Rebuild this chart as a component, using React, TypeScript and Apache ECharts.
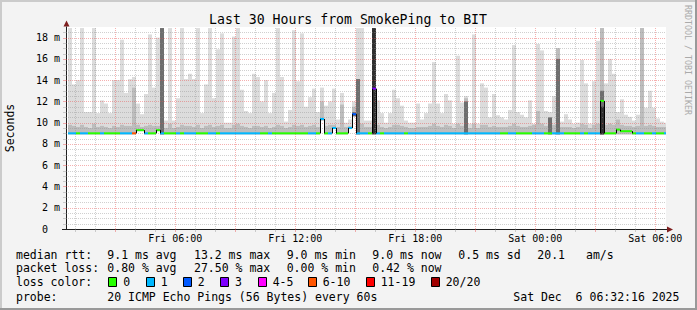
import React, { useEffect, useRef } from "react";
import * as echarts from "echarts";

const MONO = "'DejaVu Sans Mono', monospace";

// time axis: hours after Fri 00:00; left edge at Fri 00:32:16
const T0 = 0.5378;
const SPAN = 30;
const COL0 = 0.1; // first 12-minute column starts 6 min after left edge
const STEP = 0.2; // 12 minutes
const YMAX = 19;

const xTickValues = [6, 12, 18, 24, 30];
const xTickLabels = ["Fri 06:00", "Fri 12:00", "Fri 18:00", "Sat 00:00", "Sat 06:00"];

// highest ping per column (ms)
const smokeTop = [
  18.9, 13.6, 14.0, 18.9, 11.0, 11.0, 18.9, 10.9, 12.1, 11.8,
  10.9, 14.0, 14.0, 17.8, 12.8, 14.1, 14.3, 11.8, 10.8, 12.7,
  18.3, 13.3, 18.0, 18.9, 10.2, 18.9, 10.2, 12.3, 18.9, 14.1,
  14.6, 14.1, 18.9, 10.9, 13.6, 18.9, 12.3, 16.9, 18.4, 10.0,
  10.0, 18.1, 18.9, 13.1, 11.1, 10.9, 14.6, 14.3, 12.0, 14.0,
  10.9, 12.8, 18.9, 14.3, 10.1, 11.2, 18.7, 13.9, 18.4, 11.5,
  12.4, 13.2, 11.0, 13.3, 11.6, 12.0, 13.2, 10.3, 12.8, 10.0,
  10.3, 12.0, 18.9, 18.9, 10.2, 10.2, 18.9, 12.1, 10.9, 10.0,
  10.9, 13.1, 12.3, 11.6, 10.2, 10.0, 10.0, 11.8, 10.3, 10.9,
  11.8, 15.7, 11.8, 10.9, 12.7, 12.1, 9.9, 16.3, 11.9, 12.5,
  9.9, 18.3, 9.9, 13.7, 13.3, 10.5, 12.7, 10.7, 10.5, 10.3,
  11.2, 17.3, 11.0, 10.75, 10.5, 12.1, 9.9, 17.4, 16.8, 11.1,
  11.0, 12.5, 17.0, 10.1, 10.8, 10.3, 9.9, 10.0, 15.9, 13.7,
  9.9, 13.9, 17.7, 18.9, 13.7, 16.0, 14.6, 11.0, 12.2, 10.75,
  10.55, 10.2, 10.75, 18.9, 11.4, 13.0, 11.4, 10.4, 10.1, 10.0,
];

// top of the denser (medium grey) smoke band
const smokeMid = [
  9.8, 9.7, 9.6, 9.8, 9.6, 9.5, 9.9, 9.6, 9.7, 9.6,
  9.5, 9.7, 9.6, 9.8, 9.7, 9.7, 13.3, 9.8, 9.6, 9.7,
  9.8, 9.7, 9.7, 9.7, 9.5, 9.9, 9.5, 9.6, 9.8, 9.7,
  9.7, 9.6, 9.8, 9.5, 9.7, 9.8, 9.6, 9.7, 9.8, 9.5,
  9.5, 9.8, 9.9, 9.7, 9.6, 9.5, 9.7, 9.7, 9.6, 9.7,
  9.5, 9.6, 9.8, 9.7, 9.5, 9.6, 9.8, 9.7, 9.8, 9.6,
  9.7, 9.8, 9.6, 12.0, 9.7, 9.8, 9.8, 9.6, 11.7, 9.6,
  9.7, 11.5, 14.1, 9.9, 9.6, 9.6, 18.9, 9.8, 9.6, 9.5,
  9.6, 9.8, 9.8, 9.7, 9.6, 9.5, 9.5, 9.6, 9.6, 9.6,
  9.7, 9.9, 9.7, 9.6, 9.8, 9.7, 9.5, 9.9, 9.7, 12.3,
  9.5, 9.9, 9.5, 9.8, 9.8, 9.6, 9.7, 9.6, 9.6, 9.6,
  9.7, 9.9, 9.7, 9.6, 9.6, 9.7, 9.8, 11.1, 9.9, 9.7,
  10.2, 9.8, 17.0, 9.6, 9.6, 9.6, 9.5, 9.6, 9.9, 9.8,
  9.5, 9.8, 9.9, 18.9, 9.8, 9.9, 9.8, 10.3, 9.8, 9.7,
  9.7, 9.6, 9.7, 18.9, 9.7, 9.8, 9.7, 9.6, 9.6, 9.6,
];

// [column, top of dark smoke]
const smokeDark = [
  [23, 18.9], [71, 11.0], [72, 14.1], [99, 12.0], [120, 10.5], [122, 16.0], [133, 13.0],
];
// [column, top of near-black smoke]
const smokeCore = [[76, 18.9], [133, 11.5]];
// [column, lowest ping] where it sits above the usual 8.9 ms
const pingMinRaised = [
  [17, 9.2], [18, 9.2], [22, 9.2], [63, 10.2], [66, 9.4], [70, 9.4], [71, 10.6],
];
const PING_MIN = 8.9;

// median rtt per column (ms)
const median = [
  9.0, 9.0, 9.0, 9.0, 9.0, 9.0, 9.0, 9.0, 9.0, 9.0,
  9.0, 9.0, 9.0, 9.0, 9.0, 9.0, 9.0, 9.3, 9.3, 9.0,
  9.0, 9.0, 9.3, 9.0, 9.0, 9.0, 9.0, 9.0, 9.0, 9.0,
  9.0, 9.0, 9.0, 9.0, 9.0, 9.0, 9.0, 9.0, 9.0, 9.0,
  9.0, 9.0, 9.0, 9.0, 9.0, 9.0, 9.0, 9.0, 9.0, 9.0,
  9.0, 9.0, 9.0, 9.0, 9.0, 9.0, 9.0, 9.0, 9.0, 9.0,
  9.0, 9.0, 9.0, 10.35, 9.0, 9.0, 9.5, 9.0, 9.0, 9.0,
  9.5, 10.8, 9.0, 9.0, 9.0, 9.0, 13.2, 9.0, 9.0, 9.0,
  9.0, 9.0, 9.0, 9.0, 9.0, 9.0, 9.0, 9.0, 9.0, 9.0,
  9.0, 9.0, 9.0, 9.0, 9.0, 9.0, 9.0, 9.0, 9.0, 9.0,
  9.0, 9.0, 9.0, 9.0, 9.0, 9.0, 9.0, 9.0, 9.0, 9.0,
  9.0, 9.0, 9.0, 9.0, 9.0, 9.0, 9.0, 9.0, 9.0, 9.0,
  9.0, 9.0, 9.0, 9.0, 9.0, 9.0, 9.0, 9.0, 9.0, 9.0,
  9.0, 9.0, 9.0, 12.05, 9.0, 9.0, 9.0, 9.35, 9.2, 9.2,
  9.2, 9.0, 9.0, 9.0, 9.0, 9.0, 9.0, 9.0, 9.0, 9.0,
];

// loss class per column (index into lossColors)
const loss = [
  1, 1, 0, 1, 1, 0, 0, 0, 1, 0,
  0, 0, 0, 1, 1, 1, 5, 0, 0, 1,
  0, 0, 0, 1, 0, 0, 0, 1, 0, 1,
  1, 1, 0, 0, 0, 1, 1, 0, 1, 1,
  1, 1, 1, 1, 1, 1, 1, 1, 0, 0,
  1, 0, 0, 0, 0, 0, 0, 0, 0, 0,
  1, 1, 0, 1, 0, 1, 1, 0, 0, 0,
  1, 2, 1, 1, 1, 0, 3, 1, 0, 1,
  1, 1, 1, 1, 0, 1, 1, 1, 1, 1,
  1, 1, 1, 1, 1, 1, 1, 1, 1, 1,
  1, 1, 1, 1, 1, 1, 1, 1, 0, 0,
  1, 1, 0, 0, 0, 0, 1, 1, 1, 0,
  0, 1, 1, 1, 0, 0, 0, 0, 1, 0,
  1, 1, 1, 0, 0, 0, 0, 0, 0, 0,
  0, 0, 1, 1, 0, 0, 1, 0, 0, 1,
];

const lossColors = ["#26ff00", "#00b8ff", "#0059ff", "#7e00ff", "#ff00ff", "#ff5500", "#ff0000", "#a10000"];
const lossLabels = ["0", "1", "2", "3", "4-5", "6-10", "11-19", "20/20"];

const statRows = [
  { label: "median rtt:", items: ["9.1 ms avg", "13.2 ms max", "9.0 ms min", "9.0 ms now", "0.5 ms sd", "20.1", "am/s"] },
  { label: "packet loss:", items: ["0.80 % avg", "27.50 % max", "0.00 % min", "0.42 % now"] },
];
const probeText = "20 ICMP Echo Pings (56 Bytes) every 60s";
const stampText = "Sat Dec\u00a0\u00a06 06:32:16 2025";
const titleText = "Last 30 Hours from SmokePing to BIT";

function buildOption() {
  const colStart = (i: number) => T0 + COL0 + STEP * i;
  const lookup = (arr: number[][], i: number, dflt: number) => {
    const f = arr.find((d) => d[0] === i);
    return f ? f[1] : dflt;
  };

  const smokeData = smokeTop.map((top, i) => [
    colStart(i),
    colStart(i) + STEP,
    lookup(pingMinRaised, i, PING_MIN),
    top,
    smokeMid[i],
    lookup(smokeDark, i, 0),
    lookup(smokeCore, i, 0),
  ]);

  const medianData = median.map((m, i) => [
    colStart(i),
    colStart(i) + STEP,
    m,
    i > 0 ? median[i - 1] : m,
    loss[i],
  ]);

  // grid lines: [kind(0 vertical / 1 horizontal), value, major]
  const gridData: number[][] = [];
  for (let h = Math.ceil(T0); h <= T0 + SPAN; h++) gridData.push([0, h, h % 3 === 0 ? 1 : 0]);
  for (let v = 0.5; v < YMAX; v += 0.5) gridData.push([1, v, Math.abs(v % 2) < 1e-9 ? 1 : 0]);

  const minorC = "rgba(143,143,143,0.42)";
  const majorC = "rgba(232,80,80,0.45)";

  // legend text elements
  const g: any[] = [];
  const txt = (x: number, y: number, text: string, extra: any = {}) =>
    g.push({
      type: "text",
      x,
      y,
      silent: true,
      style: { text, fontSize: 11.5, fontFamily: MONO, fill: "#000", align: "left", verticalAlign: "middle", ...extra },
    });

  const colX = [107.3, 194, 286.7, 372.3, 458.3, 537.3, 586];
  const rowY = [254.5, 268.3, 282, 296.5];
  statRows.forEach((r, ri) => {
    txt(16, rowY[ri], r.label);
    r.items.forEach((it, k) => txt(colX[k], rowY[ri], it));
  });
  txt(16, rowY[2], "loss color:");
  const boxX = [108.3, 145.7, 182.7, 220, 257.7, 307.7, 365.7, 430.7];
  lossLabels.forEach((lab, k) => {
    g.push({
      type: "rect",
      silent: true,
      shape: { x: Math.round(boxX[k]) + 0.5, y: rowY[2] - 4.5, width: 8, height: 9 },
      style: { fill: lossColors[k], stroke: "#000", lineWidth: 1 },
    });
    txt(boxX[k] + 15, rowY[2], lab);
  });
  txt(16, rowY[3], "probe:");
  txt(107.3, rowY[3], probeText);
  txt(513.3, rowY[3], stampText);

  // frame, title, side texts, arrows
  g.push(
    { type: "rect", silent: true, shape: { x: 0, y: 0, width: 697, height: 2 }, style: { fill: "#cbcbcb" } },
    { type: "rect", silent: true, shape: { x: 0, y: 0, width: 2, height: 310 }, style: { fill: "#cbcbcb" } },
    { type: "rect", silent: true, shape: { x: 0, y: 308, width: 697, height: 2 }, style: { fill: "#999999" } },
    { type: "rect", silent: true, shape: { x: 695, y: 0, width: 2, height: 310 }, style: { fill: "#999999" } },
    {
      type: "text",
      x: 348,
      y: 19,
      silent: true,
      style: { text: titleText, fontSize: 13.2, fontFamily: MONO, fill: "#000", align: "center", verticalAlign: "middle" },
    },
    {
      type: "text",
      x: 10,
      y: 128,
      rotation: Math.PI / 2,
      silent: true,
      style: { text: "Seconds", fontSize: 11.5, fontFamily: MONO, fill: "#000", align: "center", verticalAlign: "middle" },
    },
    {
      type: "text",
      x: 688,
      y: 5,
      rotation: -Math.PI / 2,
      silent: true,
      style: { text: "RRDTOOL / TOBI OETIKER", fontSize: 8.3, fontFamily: MONO, fill: "#aaaaaa", align: "left", verticalAlign: "middle" },
    },
    { type: "line", silent: true, shape: { x1: 62, y1: 229.5, x2: 66, y2: 229.5 }, style: { stroke: "#1f1f1f", lineWidth: 1 } },
    { type: "line", silent: true, shape: { x1: 666, y1: 229.5, x2: 668, y2: 229.5 }, style: { stroke: "#1f1f1f", lineWidth: 1 } },
    { type: "polygon", silent: true, shape: { points: [[667, 226.5], [667, 232.5], [673, 229.5]] }, style: { fill: "#7f1f1f" } },
    { type: "polygon", silent: true, shape: { points: [[63.5, 26.5], [69.5, 26.5], [66.5, 20.5]] }, style: { fill: "#7f1f1f" } }
  );

  return {
    animation: false,
    backgroundColor: "#f3f3f3",
    grid: { left: 66, right: 31, top: 27, bottom: 81, show: true, backgroundColor: "#ffffff", borderWidth: 0 },
    xAxis: {
      type: "value",
      min: T0,
      max: T0 + SPAN,
      axisLine: { show: true, onZero: false, lineStyle: { color: "#1f1f1f", width: 1 } },
      axisTick: { show: false },
      splitLine: { show: false },
      axisLabel: {
        customValues: xTickValues,
        formatter: (v: number) => {
          const k = xTickValues.findIndex((t) => Math.abs(t - v) < 1e-6);
          return k >= 0 ? xTickLabels[k] : "";
        },
        fontFamily: MONO,
        fontSize: 10,
        color: "#000",
        margin: 4,
      },
    },
    yAxis: {
      type: "value",
      min: 0,
      max: YMAX,
      interval: 2,
      axisLine: { show: true, lineStyle: { color: "#1f1f1f", width: 1 } },
      axisTick: { show: false },
      splitLine: { show: false },
      axisLabel: {
        showMaxLabel: false,
        fontFamily: MONO,
        fontSize: 10,
        color: "#000",
        margin: 6,
        formatter: (v: number) => (v === 0 ? "{z|0}" : v >= YMAX ? "" : `${v} m`),
        rich: { z: { fontFamily: MONO, fontSize: 10, color: "#000", padding: [0, 12, 0, 0] } },
      },
    },
    graphic: g,
    series: [
      {
        type: "custom",
        name: "smoke",
        z: 1,
        silent: true,
        clip: true,
        encode: { x: 0, y: 3 },
        data: smokeData,
        renderItem: (_p: any, api: any) => {
          const t0 = api.value(0), t1 = api.value(1), lo = api.value(2);
          const bands: [number, string][] = [
            [api.value(3), "#dcdcdc"],
            [api.value(4), "#bdbdbd"],
            [api.value(5), "#6e6e6e"],
            [api.value(6), "#303030"],
          ];
          const children: any[] = [];
          bands.forEach(([hi, color]) => {
            if (!(hi > lo)) return;
            const a = api.coord([t0, hi]);
            const b = api.coord([t1, lo]);
            children.push({
              type: "rect",
              shape: { x: a[0], y: a[1], width: b[0] - a[0], height: b[1] - a[1] },
              style: { fill: color },
            });
          });
          return { type: "group", children };
        },
      },
      {
        type: "custom",
        name: "grid",
        z: 3,
        silent: true,
        clip: false,
        encode: { x: 0, y: 1 },
        data: gridData,
        renderItem: (_p: any, api: any) => {
          const kind = api.value(0), v = api.value(1), major = api.value(2);
          const c = major ? majorC : minorC;
          if (kind === 0) {
            const a = api.coord([v, 0]);
            const b = api.coord([v, YMAX]);
            const x = Math.round(a[0]) + 0.5;
            return {
              type: "group",
              children: [
                { type: "line", shape: { x1: x, y1: a[1], x2: x, y2: b[1] }, style: { stroke: c, lineWidth: 1, lineDash: [1, 1] } },
                { type: "line", shape: { x1: x, y1: a[1], x2: x, y2: a[1] + 3 }, style: { stroke: c, lineWidth: 1 } },
              ],
            };
          }
          const a = api.coord([T0, v]);
          const b = api.coord([T0 + SPAN, v]);
          const y = Math.round(a[1]) + 0.5;
          return {
            type: "group",
            children: [
              { type: "line", shape: { x1: a[0], y1: y, x2: b[0], y2: y }, style: { stroke: c, lineWidth: 1, lineDash: [1, 1] } },
              { type: "line", shape: { x1: a[0] - 3, y1: y, x2: a[0], y2: y }, style: { stroke: c, lineWidth: 1 } },
            ],
          };
        },
      },
      {
        type: "custom",
        name: "median",
        z: 4,
        silent: true,
        clip: true,
        encode: { x: 0, y: 2 },
        data: medianData,
        renderItem: (_p: any, api: any) => {
          const t0 = api.value(0), t1 = api.value(1), m = api.value(2), prev = api.value(3), li = api.value(4);
          const a = api.coord([t0, m]);
          const b = api.coord([t1, m]);
          const children: any[] = [
            { type: "rect", shape: { x: a[0], y: a[1] - 1, width: b[0] - a[0], height: 2 }, style: { fill: lossColors[li] } },
          ];
          if (Math.abs(prev - m) > 0.05) {
            const p = api.coord([t0, prev]);
            children.push({
              type: "line",
              shape: { x1: a[0] + 0.5, y1: p[1], x2: a[0] + 0.5, y2: a[1] },
              style: { stroke: "#000", lineWidth: 1 },
            });
          }
          return { type: "group", children };
        },
      },
    ],
  };
}

export default function App() {
  const ref = useRef<HTMLDivElement>(null);
  useEffect(() => {
    const chart = echarts.init(ref.current!, null, { renderer: "svg" });
    chart.setOption(buildOption() as any);
    return () => chart.dispose();
  }, []);
  return <div ref={ref} style={{ position: "fixed", left: 0, top: 0, width: 697, height: 310 }} />;
}
